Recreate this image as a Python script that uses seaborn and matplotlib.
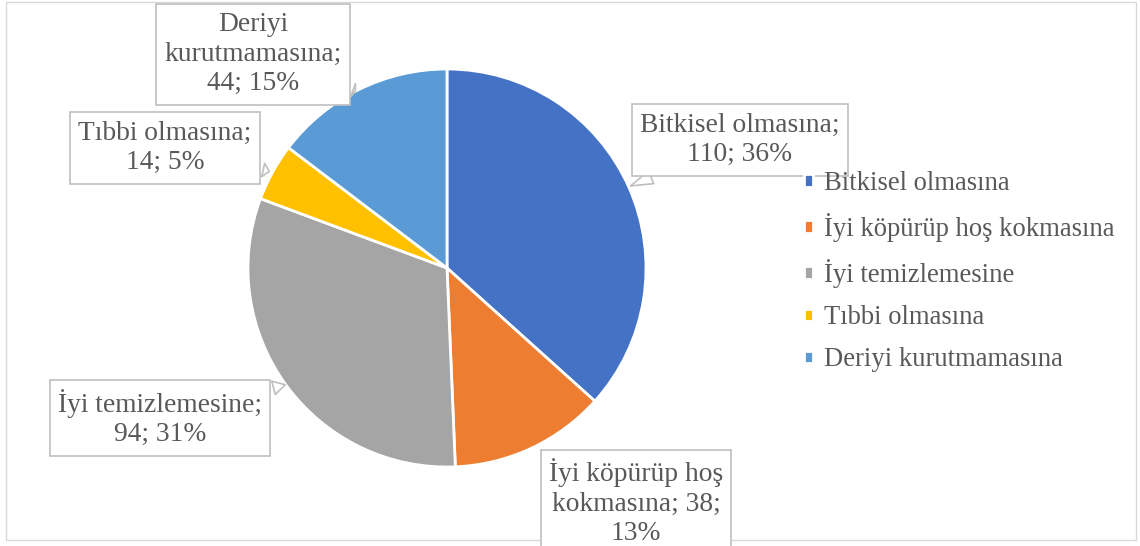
import matplotlib
matplotlib.use("Agg")
import matplotlib.pyplot as plt
import seaborn as sns
from matplotlib.patches import Rectangle

# Data
categories = ["Bitkisel olmasına", "İyi köpürüp hoş kokmasına", "İyi temizlemesine",
              "Tıbbi olmasına", "Deriyi kurutmamasına"]
values = [110, 38, 94, 14, 44]
percents = ["36%", "13%", "31%", "5%", "15%"]
label_texts = [
    "Bitkisel olmasına;\n110; 36%",
    "İyi köpürüp hoş\nkokmasına; 38;\n13%",
    "İyi temizlemesine;\n94; 31%",
    "Tıbbi olmasına;\n14; 5%",
    "Deriyi\nkurutmamasına;\n44; 15%",
]
colors = ["#4472C4", "#ED7D31", "#A5A5A5", "#FFC000", "#5B9BD5"]

sns.set_style("white")
plt.rcParams['font.family'] = ['Liberation Serif', 'DejaVu Serif']
text_color = "#595959"
fs = 19.8

W, H = 1140, 546
fig = plt.figure(figsize=(W / 100, H / 100), dpi=100)

# pie center and radius in pixels
cx, cy, r = 447, 268, 199
ax = fig.add_axes([(cx - r) / W, (H - cy - r) / H, 2 * r / W, 2 * r / H])
wedges, _ = ax.pie(values, colors=colors, startangle=90, counterclock=False,
                   radius=1, wedgeprops=dict(edgecolor="white", linewidth=2))
ax.set_xlim(-1, 1)
ax.set_ylim(-1, 1)
ax.set_aspect("equal")
ax.axis("off")


def to_data(px, py):
    return ((px - cx) / r, (cy - py) / r)


# label box centers and tail tips (pixels)
box_pos = [(740, 140), (636, 502), (160, 418), (165, 148), (253, 54)]
tail_pos = [(628, 187), None, (288, 384), (272, 172), (358, 92)]

for txt, bp, tp in zip(label_texts, box_pos, tail_pos):
    bbox = dict(boxstyle="square,pad=0.3", fc="white", ec="#BFBFBF", lw=1.2)
    if tp is None:
        ax.annotate(txt, xy=to_data(*bp), ha="center", va="center", fontsize=fs,
                    color=text_color, bbox=bbox, annotation_clip=False,
                    linespacing=1.25)
    else:
        ax.annotate(txt, xy=to_data(*tp), xytext=to_data(*bp), ha="center",
                    va="center", fontsize=fs, color=text_color, bbox=bbox,
                    annotation_clip=False, linespacing=1.25,
                    arrowprops=dict(arrowstyle="wedge,tail_width=0.5,shrink_factor=0.5",
                                    fc="white", ec="#BFBFBF", lw=1.2))

fig.legend(wedges, categories, loc="center left", bbox_to_anchor=(0.684, 0.502),
           frameon=False, fontsize=19.2, handlelength=0.35, handleheight=0.35,
           handletextpad=0.4, labelspacing=0.64, labelcolor=text_color)

fig.patches.append(Rectangle((6 / W, 6 / H), 1130 / W, 538 / H, transform=fig.transFigure,
                             fill=False, ec="#D9D9D9", lw=1, zorder=-1))

fig.savefig("out.png", dpi=100)
